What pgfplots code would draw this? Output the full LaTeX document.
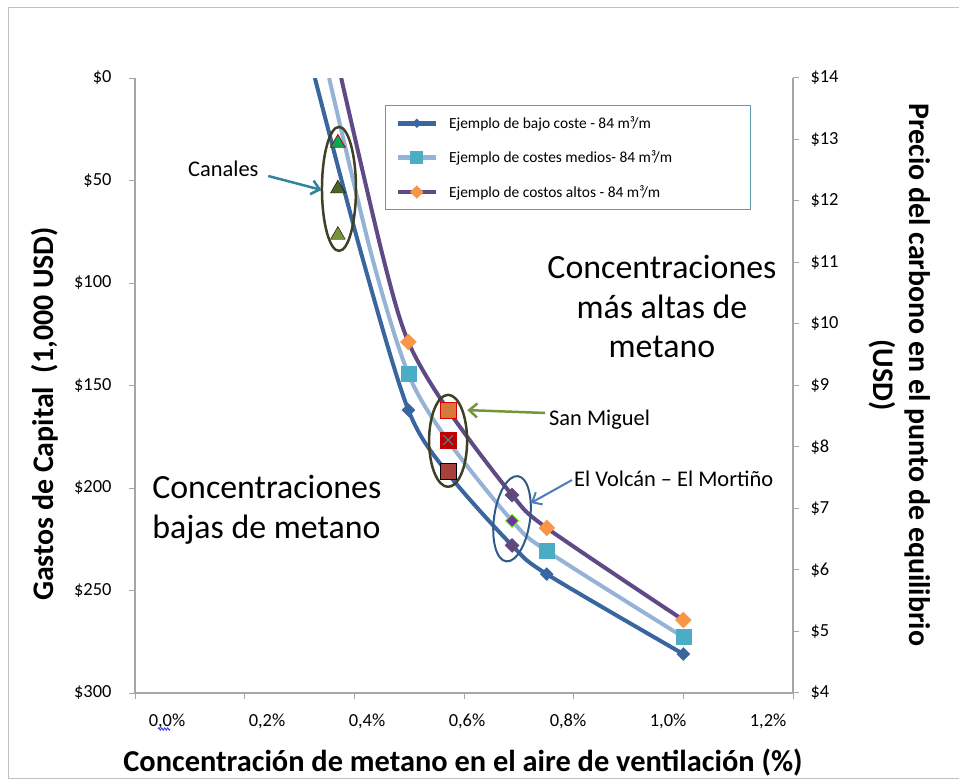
\documentclass[border=0pt]{standalone}
\usepackage{pgfplots}
\pgfplotsset{compat=1.18}
\usepackage{fontspec}
\setmainfont{Carlito}
\usetikzlibrary{arrows.meta,decorations.pathmorphing}
\definecolor{dblue}{HTML}{3A66A0}
\definecolor{lblue}{HTML}{95B3D7}
\definecolor{purp}{HTML}{5F4A85}
\definecolor{aqua}{HTML}{4BACC6}
\definecolor{orng}{HTML}{F79646}
\definecolor{axgrey}{HTML}{A6A6A6}
\definecolor{olivedk}{HTML}{404025}
\definecolor{tealarr}{HTML}{31849B}
\definecolor{greenarr}{HTML}{77933C}
\definecolor{bluearr}{HTML}{4A7EBB}
\definecolor{ellblue}{HTML}{2F5A88}
\definecolor{legborder}{HTML}{5B9BAA}
\definecolor{trigreen}{HTML}{00B050}
\definecolor{trioliv}{HTML}{4F6228}
\definecolor{sqorange}{HTML}{D67A3C}
\definecolor{sqred}{HTML}{C00000}
\definecolor{sqdark}{HTML}{A5403A}
\definecolor{dmpurp}{HTML}{604A7B}
\definecolor{dmviolet}{HTML}{7030A0}
\begin{document}
\begin{tikzpicture}
\path[use as bounding box] (0,0) rectangle (959bp,781bp);
\draw[axgrey!70, line width=1bp] (8bp,2bp) rectangle (1000bp,773bp);
\begin{axis}[
  at={(135bp,88bp)}, anchor=south west,
  scale only axis, width=658bp, height=615bp,
  xmin=0, xmax=1.2, ymin=0, ymax=300, y dir=reverse,
  axis x line*=bottom, axis y line*=left,
  axis line style={axgrey, line width=1.2bp},
  tick style={axgrey, line width=1bp},
  tick align=outside, major tick length=6bp,
  xtick={0,0.2,0.4,0.6,0.8,1.0,1.2},
  xticklabels={},
  extra x ticks={0.0584,0.2407,0.4231,0.6055,0.7897,0.9721,1.1545},
  extra x tick labels={0{,}0\%,0{,}2\%,0{,}4\%,0{,}6\%,0{,}8\%,1{,}0\%,1{,}2\%},
  extra x tick style={major tick length=0pt, xticklabel style={yshift=-17bp}},
  ytick={0,50,100,150,200,250,300},
  yticklabels={\$0,\$50,\$100,\$150,\$200,\$250,\$300},
  ticklabel style={font=\fontsize{18.5}{21}\selectfont, text=black},
  yticklabel style={xshift=-14bp},
  clip mode=individual,
  legend style={at={(0.380,0.956)}, anchor=north west, draw=legborder, line width=1bp,
    fill=white, font=\fontsize{15.5}{18}\selectfont, inner xsep=10bp, inner ysep=9bp,
    row sep=17bp, legend cell align=left,
    /tikz/every odd column/.append style={column sep=9bp}},
  legend cell align=left,
]
% curves
\addplot[dblue, line width=4bp, smooth, forget plot] coordinates {
 (0.328,0) (0.414,87) (0.4986,162) (0.571,193) (0.6876,228) (0.751,242) (1.0,281)};
\addplot[lblue, line width=4bp, smooth, forget plot] coordinates {
 (0.354,0) (0.432,87) (0.4986,144.4) (0.571,177) (0.6876,216) (0.751,230.7) (1.0,272.7)};
\addplot[purp, line width=4bp, smooth, forget plot] coordinates {
 (0.376,0) (0.452,87) (0.4986,128.8) (0.571,162) (0.6876,203.4) (0.751,219.5) (1.0,264.4)};
% series markers with legend
\addplot[only marks, mark=square*, mark size=4.6bp, mark options={rotate=45, fill=dblue, draw=dblue},
  legend image code/.code={\draw[dblue, line width=4.5bp] (0bp,0bp) -- (38bp,0bp);
    \fill[dblue] (19bp,0bp) +(0bp,4bp) -- +(4bp,0bp) -- +(0bp,-4bp) -- +(-4bp,0bp) -- cycle;}]
 coordinates {(0.4986,162) (0.751,242) (1.0,281)};
\addlegendentry{\makebox[289bp][l]{Ejemplo de bajo coste - 84 m³/m}}
\addplot[only marks, mark=square*, mark size=7.5bp, mark options={fill=aqua, draw=aqua},
  legend image code/.code={\draw[lblue, line width=4.5bp] (0bp,0bp) -- (38bp,0bp);
    \fill[aqua] (13bp,-6bp) rectangle (25bp,6bp);}]
 coordinates {(0.4986,144.4) (0.751,230.7) (1.0,272.7)};
\addlegendentry{Ejemplo de costes medios- 84 m³/m}
\addplot[only marks, mark=square*, mark size=5.6bp, mark options={rotate=45, fill=orng, draw=orng},
  legend image code/.code={\draw[purp, line width=4.5bp] (0bp,0bp) -- (38bp,0bp);
    \fill[orng] (19bp,0bp) +(0bp,6bp) -- +(6bp,0bp) -- +(0bp,-6bp) -- +(-6bp,0bp) -- cycle;}]
 coordinates {(0.4986,128.8) (0.751,219.5) (1.0,264.4)};
\addlegendentry{Ejemplo de costos altos - 84 m³/m}
% Canales
\addplot[only marks, mark=triangle*, mark size=8.5bp, mark options={fill=trigreen, draw=red!75!black, line width=0.8bp}, forget plot]
 coordinates {(0.370,31.7)};
\addplot[only marks, mark=triangle*, mark size=8.5bp, mark options={fill=trioliv, draw=none}, forget plot]
 coordinates {(0.370,54)};
\addplot[only marks, mark=triangle*, mark size=8.5bp, mark options={fill=greenarr, draw=none}, forget plot]
 coordinates {(0.370,76.6)};
% San Miguel
\addplot[only marks, mark=square*, mark size=8bp, mark options={fill=sqorange, draw=red!85!black, line width=0.8bp}, forget plot]
 coordinates {(0.571,162)};
\addplot[only marks, mark=square*, mark size=8bp, mark options={fill=sqred, draw=sqred}, forget plot]
 coordinates {(0.571,176.6)};
\addplot[only marks, mark=x, mark size=7bp, mark options={draw=aqua!80!black, line width=1bp}, forget plot]
 coordinates {(0.571,176.6)};
\addplot[only marks, mark=square*, mark size=8bp, mark options={fill=sqdark, draw=none}, forget plot]
 coordinates {(0.571,191.7)};
% El Volcan
\addplot[only marks, mark=square*, mark size=5bp, mark options={rotate=45, fill=dmpurp, draw=dmpurp}, forget plot]
 coordinates {(0.6876,203.4) (0.6876,228)};
\addplot[only marks, mark=square*, mark size=4.6bp, mark options={rotate=45, fill=dmviolet, draw=green!50!lime, line width=0.8bp}, forget plot]
 coordinates {(0.6876,216)};
% annotations
\draw[olivedk, line width=2.5bp] (axis cs:0.372,54.1) ellipse [x radius=17bp, y radius=62bp];
\draw[olivedk, line width=2.5bp] (axis cs:0.571,177) ellipse [x radius=19bp, y radius=46bp];
\draw[ellblue, line width=2bp, rotate around={-8:(axis cs:0.6876,215)}] (axis cs:0.6876,215) ellipse [x radius=18bp, y radius=43bp];
\draw[tealarr, line width=2.5bp, -{Straight Barb[length=8bp,width=14bp]}] (axis cs:0.243,47.8) -- (axis cs:0.340,54.6);
\draw[greenarr, line width=2.5bp, -{Straight Barb[length=8bp,width=14bp]}] (axis cs:0.748,163.4) -- (axis cs:0.606,162);
\draw[bluearr, line width=2bp, -{Straight Barb[length=8bp,width=14bp]}] (axis cs:0.797,196.1) -- (axis cs:0.722,207.3);
\node[anchor=west, inner sep=0pt, font=\fontsize{22.5}{26}\selectfont] at (axis cs:0.0967,44.5) {Canales};
\node[anchor=west, inner sep=0pt, font=\fontsize{22.5}{26}\selectfont] at (axis cs:0.755,166.5) {San Miguel};
\node[anchor=west, inner sep=0pt, font=\fontsize{22.5}{26}\selectfont] at (axis cs:0.8006,195.5) {El Volcán – El Mortiño};
\node[align=center, font=\fontsize{34}{40}\selectfont] at (axis cs:0.961,111.5) {Concentraciones\\más altas de\\metano};
\node[align=left, anchor=west, font=\fontsize{34}{40}\selectfont] at (axis cs:0.0252,210.5) {Concentraciones\\bajas de metano};
\end{axis}
\begin{axis}[
  at={(135bp,88bp)}, anchor=south west,
  scale only axis, width=658bp, height=615bp,
  xmin=0, xmax=1.2, ymin=4, ymax=14,
  axis x line=none, axis y line*=right,
  axis line style={axgrey, line width=1.2bp},
  tick style={axgrey, line width=1bp},
  tick align=outside, major tick length=6bp,
  ytick={4,5,...,14},
  yticklabels={\$4,\$5,\$6,\$7,\$8,\$9,\$10,\$11,\$12,\$13,\$14},
  ticklabel style={font=\fontsize{18.5}{21}\selectfont, text=black},
  yticklabel style={xshift=8bp},
]
\end{axis}
\draw[blue!80!white, line width=0.8bp, decorate, decoration={zigzag, segment length=3bp, amplitude=1.2bp}] (158bp,52bp) -- (170bp,52bp);
\node[rotate=90, font=\bfseries\fontsize{30}{34}\selectfont] at (45bp,367bp) {Gastos de Capital\ \ (1,000 USD)};
\node[rotate=-90, align=center, font=\bfseries\fontsize{30}{36}\selectfont] at (900bp,406bp) {Precio del carbono en el punto de equilibrio\\(USD)};
\node[font=\bfseries\fontsize{30.5}{34}\selectfont] at (463bp,18bp) {Concentración de metano en el aire de ventilación (\%)};
\end{tikzpicture}
\end{document}
